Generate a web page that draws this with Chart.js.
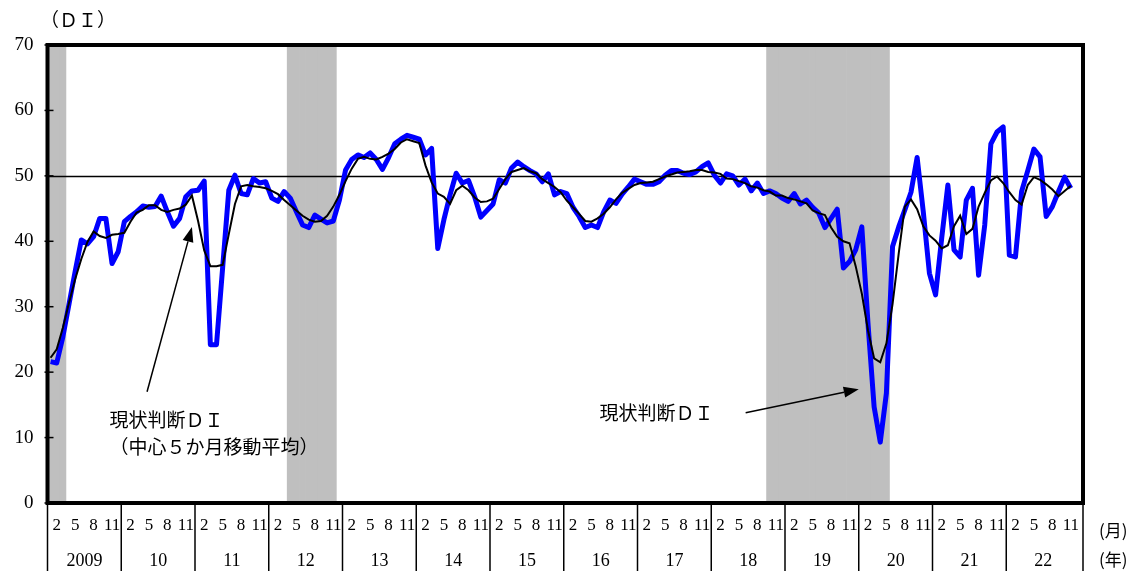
<!DOCTYPE html>
<html lang="ja">
<head>
<meta charset="utf-8">
<title>現状判断DI</title>
<script src="https://cdn.jsdelivr.net/npm/chart.js@4.4.1/dist/chart.umd.min.js"></script>
<style>
  html, body { margin: 0; padding: 0; background: #fff; }
  #wrap { width: 1138px; height: 571px; }
</style>
</head>
<body>
<div id="wrap"><canvas id="diChart" width="1138" height="571"></canvas></div>
<script>
/*********************************************
 *  DATA
 *********************************************/

// year row of the axis table (2009 – 2022)
const years = ["2009", "10", "11", "12", "13", "14", "15", "16", "17", "18", "19", "20", "21", "22"];
const fullYears = [2009, 2010, 2011, 2012, 2013, 2014, 2015, 2016, 2017, 2018, 2019, 2020, 2021, 2022];

// months shown in the month row
const monthTicks = [2, 5, 8, 11];

// y axis
const yTicks = [0, 10, 20, 30, 40, 50, 60, 70];

// 現状判断DI, Jan 2009 – Nov 2022 (one row per year)
const currentDI = [
  21.6, 21.4, 25.4, 30.4, 35.4, 40.2, 39.6, 40.7, 43.5, 43.5, 36.6, 38.4,
  43.0, 43.8, 44.5, 45.4, 45.2, 45.3, 46.9, 44.5, 42.3, 43.5, 46.8, 47.7,
  47.8, 49.2, 24.2, 24.2, 36.0, 47.8, 50.1, 47.3, 47.1, 49.6, 48.9, 49.1,
  46.6, 46.1, 47.6, 46.6, 44.5, 42.5, 42.1, 44.0, 43.4, 42.8, 43.1, 46.3,
  50.9, 52.5, 53.2, 52.8, 53.5, 52.5, 51.0, 52.8, 54.9, 55.6, 56.2, 55.9,
  55.6, 53.2, 54.2, 38.9, 43.3, 47.1, 50.4, 48.9, 49.3, 46.8, 43.7, 44.7,
  45.7, 49.4, 48.9, 51.2, 52.1, 51.4, 50.8, 50.3, 49.1, 50.3, 47.1, 47.6,
  47.3, 45.2, 43.8, 42.1, 42.5, 42.1, 44.5, 46.3, 45.8, 47.2, 48.3, 49.5,
  49.1, 48.7, 48.7, 49.1, 50.1, 50.8, 50.8, 50.4, 50.2, 50.6, 51.4, 52.0,
  50.1, 48.9, 50.3, 50.0, 48.6, 49.5, 47.7, 48.9, 47.3, 47.7, 47.3, 46.6,
  46.1, 47.3, 45.7, 46.3, 45.2, 44.3, 42.1, 43.5, 44.9, 35.9, 36.9, 38.7,
  42.2, 27.5, 14.7, 9.3, 16.8, 39.2, 42.2, 44.8, 47.5, 52.8, 44.5, 35.1,
  31.8, 40.5, 48.6, 38.7, 37.6, 46.3, 48.1, 34.8, 42.5, 54.9, 56.7, 57.5,
  37.9, 37.6, 47.6, 50.8, 54.1, 52.9, 43.8, 45.3, 47.6, 49.8, 48.1,
];

// 中心5か月移動平均
const currentDIma = [
  22.2, 23.5, 26.8, 30.6, 34.2, 37.3, 39.9, 41.5, 40.8, 40.5, 41.0, 41.1,
  41.3, 43.0, 44.4, 44.8, 45.5, 45.5, 44.8, 44.5, 44.8, 45.0, 45.6, 47.0,
  43.1, 38.6, 36.2, 36.2, 36.4, 41.1, 45.7, 48.4, 48.6, 48.4, 48.3, 48.1,
  47.7, 47.2, 46.3, 45.5, 44.7, 43.9, 43.3, 43.0, 43.1, 43.9, 45.3, 47.1,
  49.2, 51.1, 52.6, 52.9, 52.6, 52.5, 52.9, 53.4, 54.1, 55.1, 55.6, 55.3,
  55.0, 51.6, 49.0, 47.3, 46.8, 45.7, 47.8, 48.5, 47.8, 46.7, 46.0, 46.1,
  46.5, 48.0, 49.5, 50.6, 50.9, 51.2, 50.7, 50.4, 49.5, 48.9, 48.3, 47.5,
  46.2, 45.2, 44.2, 43.1, 43.0, 43.5, 44.2, 45.2, 46.4, 47.4, 48.0, 48.6,
  48.9, 49.0, 49.1, 49.5, 49.9, 50.2, 50.5, 50.6, 50.7, 50.9, 50.9, 50.6,
  50.5, 50.3, 49.6, 49.5, 49.2, 48.9, 48.4, 48.2, 47.8, 47.6, 47.0, 47.0,
  46.6, 46.4, 46.1, 45.8, 44.7, 44.3, 44.0, 42.1, 40.7, 40.0, 39.7, 36.2,
  32.0, 26.4, 22.1, 21.5, 24.4, 30.4, 38.1, 45.3, 46.4, 44.9, 42.3, 40.9,
  40.1, 38.9, 39.4, 42.3, 43.9, 41.1, 41.9, 45.3, 47.4, 49.3, 49.9, 48.9,
  47.5, 46.3, 45.6, 48.6, 49.8, 49.4, 48.7, 47.9, 46.9, 47.7, 48.5,
];

// recession periods (shaded)
const recessions = [
  ["2009-01", "2009-03"],
  ["2012-04", "2012-11"],
  ["2018-10", "2020-05"],
];

/*********************************************
 *  BUILD CATEGORIES + SHADING
 *********************************************/

const monthLabels = [];
fullYears.forEach((y) => {
  for (let m = 1; m <= 12; m++) monthLabels.push(y + "-" + String(m).padStart(2, "0"));
});

const shadeData = monthLabels.map(() => null);
recessions.forEach(([from, to]) => {
  const a = monthLabels.indexOf(from);
  const b = monthLabels.indexOf(to);
  for (let i = a; i <= b; i++) shadeData[i] = yTicks[yTicks.length - 1];
});

// callout texts + arrows, placed in (month index, DI) space
const callouts = [
  { lines: ["現状判断ＤＩ", "（中心５か月移動平均）"], at: [9.6, 12.7], from: [15.7, 17.0], to: [23.0, 42.2] },
  { lines: ["現状判断ＤＩ"], at: [89.3, 13.8], from: [113.1, 13.8], to: [131.5, 17.4] },
];

const SERIF = "'Liberation Serif', 'DejaVu Serif', serif";
const JP = "'Noto Sans CJK JP', 'Noto Sans', sans-serif";

// frame runs a little past the last month
const FRAME_EXTRA = 3;

/*********************************************
 *  FRAME / AXIS TABLE / CALLOUTS
 *********************************************/

function drawArrow(c, x1, y1, x2, y2) {
  const ang = Math.atan2(y2 - y1, x2 - x1);
  const head = 15, half = 5.5;
  const bx = x2 - head * Math.cos(ang);
  const by = y2 - head * Math.sin(ang);
  c.beginPath();
  c.moveTo(x1, y1);
  c.lineTo(bx, by);
  c.lineWidth = 1.5;
  c.stroke();
  c.beginPath();
  c.moveTo(x2, y2);
  c.lineTo(bx + half * Math.sin(ang), by - half * Math.cos(ang));
  c.lineTo(bx - half * Math.sin(ang), by + half * Math.cos(ang));
  c.closePath();
  c.fill();
}

const diFrame = {
  id: "diFrame",

  // 50 line sits over the shading, under the DI lines
  afterDatasetDraw(chart, args) {
    if (args.meta.type !== "bar") return;
    const { ctx: c, chartArea: a, scales } = chart;
    const y = Math.round(scales.y.getPixelForValue(50)) + 0.5;
    c.save();
    c.strokeStyle = "#000";
    c.lineWidth = 1.5;
    c.beginPath();
    c.moveTo(a.left, y);
    c.lineTo(a.right + FRAME_EXTRA, y);
    c.stroke();
    c.restore();
  },

  afterDraw(chart) {
    const { ctx: c, chartArea: a, scales } = chart;
    const xs = scales.x, ys = scales.y;
    const half = (xs.getPixelForValue(1) - xs.getPixelForValue(0)) / 2;
    const H = chart.height;
    const frameRight = a.right + FRAME_EXTRA;

    c.save();
    c.strokeStyle = "#000";
    c.fillStyle = "#000";

    // plot frame
    c.lineWidth = 4;
    c.strokeRect(a.left, a.top, frameRight - a.left, a.bottom - a.top);

    // y tick marks
    c.lineWidth = 1.5;
    yTicks.forEach((v) => {
      const y = ys.getPixelForValue(v);
      c.beginPath();
      c.moveTo(a.left - 3, y);
      c.lineTo(a.left + 6, y);
      c.stroke();
    });

    // year separators of the axis table
    c.lineWidth = 1.5;
    for (let k = 0; k <= years.length; k++) {
      const x = k < years.length ? xs.getPixelForValue(k * 12) - half : frameRight;
      c.beginPath();
      c.moveTo(x, a.bottom);
      c.lineTo(x, H);
      c.stroke();
    }

    // month + year rows
    c.textBaseline = "middle";
    years.forEach((label, k) => {
      const left = xs.getPixelForValue(k * 12) - half;
      const right = k < years.length - 1 ? xs.getPixelForValue((k + 1) * 12) - half : a.right;
      c.font = "17px " + SERIF;
      monthTicks.forEach((m) => {
        const x = xs.getPixelForValue(k * 12 + m - 1);
        if (m >= 10) {
          c.textAlign = "right";
          c.fillText(String(m), right - 1, a.bottom + 23);
        } else {
          c.textAlign = "center";
          c.fillText(String(m), x, a.bottom + 23);
        }
      });
      c.font = "18px " + SERIF;
      c.textAlign = "center";
      c.fillText(label, (left + right) / 2, a.bottom + 58);
    });

    c.textAlign = "left";
    c.font = "17px " + JP;
    c.fillText("(月)", frameRight + 16, a.bottom + 28);
    c.fillText("(年)", frameRight + 16, a.bottom + 57);

    // unit label
    c.font = "19px " + JP;
    c.fillText("（ＤＩ）", 40, 20);

    // callouts
    callouts.forEach((n) => {
      const tx = xs.getPixelForValue(n.at[0]);
      const ty = ys.getPixelForValue(n.at[1]);
      c.font = "19px " + JP;
      c.textAlign = "left";
      n.lines.forEach((t, i) => c.fillText(t, tx, ty + i * 27));
      drawArrow(
        c,
        xs.getPixelForValue(n.from[0]), ys.getPixelForValue(n.from[1]),
        xs.getPixelForValue(n.to[0]), ys.getPixelForValue(n.to[1])
      );
    });

    c.restore();
  },
};

/*********************************************
 *  CHART
 *********************************************/

const ctx = document.getElementById("diChart").getContext("2d");

const diChart = new Chart(ctx, {
  type: "bar",
  data: {
    labels: monthLabels,
    datasets: [
      {
        type: "line",
        label: "現状判断DI（中心5か月移動平均）",
        data: currentDIma,
        borderColor: "#000",
        borderWidth: 2,
        pointRadius: 0,
        tension: 0,
        order: 1,
      },
      {
        type: "line",
        label: "現状判断DI",
        data: currentDI,
        borderColor: "#0000ff",
        borderWidth: 5,
        borderJoinStyle: "round",
        pointRadius: 0,
        tension: 0,
        order: 2,
      },
      {
        type: "bar",
        label: "景気後退期",
        data: shadeData,
        backgroundColor: "#bfbfbf",
        barPercentage: 1,
        categoryPercentage: 1,
        order: 3,
      },
    ],
  },
  options: {
    responsive: false,
    animation: false,
    events: [],
    layout: { padding: { left: 0, top: 45, right: 58, bottom: 68 } },
    plugins: {
      legend: { display: false },
      tooltip: { enabled: false },
    },
    scales: {
      x: { display: false, offset: true },
      y: {
        min: 0,
        max: 70,
        grid: { display: false, drawTicks: false },
        border: { display: false },
        ticks: {
          stepSize: 10,
          color: "#000",
          padding: 14,
          font: { family: SERIF, size: 19 },
        },
        afterFit: (s) => { s.width = 47.5; },
      },
    },
  },
  plugins: [diFrame],
});
</script>
</body>
</html>
